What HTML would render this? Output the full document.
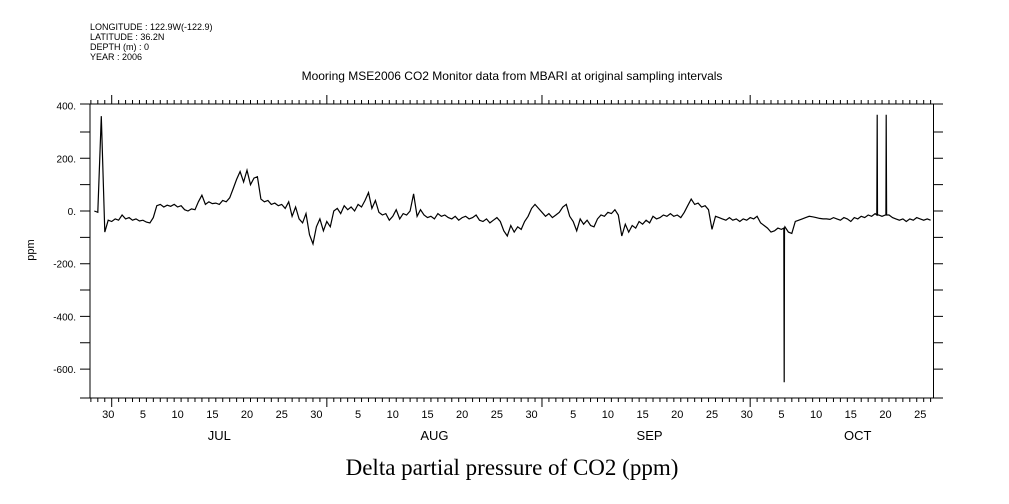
<!DOCTYPE html>
<html><head><meta charset="utf-8"><style>
html,body{margin:0;padding:0;background:#fff;}
svg{display:block;font-family:"Liberation Sans",sans-serif;}
</style></head><body>
<svg id="chart" width="1009" height="504" viewBox="0 0 1009 504">
<g font-size="9" fill="#000">
<text x="90" y="30">LONGITUDE : 122.9W(-122.9)</text>
<text x="90" y="40">LATITUDE : 36.2N</text>
<text x="90" y="50">DEPTH (m) : 0</text>
<text x="90" y="60">YEAR : 2006</text>
</g>
<text x="512" y="80" text-anchor="middle" font-size="12">Mooring MSE2006 CO2 Monitor data from MBARI at original sampling intervals</text>
<text transform="translate(34,250) rotate(-90)" text-anchor="middle" font-size="11">ppm</text>
<text x="512" y="475" text-anchor="middle" font-size="23" font-family="Liberation Serif, serif">Delta partial pressure of CO2 (ppm)</text>
<g id="axes"></g>
<g id="series"></g>
</svg>
<script>
const startDay = -2.5;   // days relative to Jul 1, step 0.5
const stepDay = 0.5;
const values = [0,-5,360,-80,-35,-40,-30,-35,-15,-30,-25,-35,-30,-38,-35,-42,-45,-25,20,25,15,22,18,25,15,20,5,0,8,5,35,60,25,35,28,30,25,40,35,50,85,120,150,110,155,100,125,130,45,35,40,25,30,20,25,10,35,-20,15,-30,-45,-10,-90,-125,-60,-30,-75,-40,-60,0,10,-10,20,5,15,0,25,15,40,70,10,40,-5,-15,-10,-35,-20,5,-30,-10,-15,0,65,-20,5,-15,-25,-20,-30,-10,-20,-15,-25,-30,-20,-35,-25,-20,-30,-25,-15,-35,-40,-30,-45,-35,-25,-40,-75,-95,-55,-80,-60,-70,-40,-20,10,25,10,-5,-20,-10,-25,-15,-5,15,25,-20,-40,-75,-30,-50,-35,-55,-60,-30,-15,-20,-5,-10,5,-15,-95,-50,-80,-55,-65,-40,-50,-35,-45,-20,-30,-25,-15,-20,-10,-20,-15,-25,-5,20,45,25,30,15,20,5,-70,-20,-25,-30,-35,-25,-35,-30,-40,-30,-35,-25,-30,-20,-45,-55,-65,-80,-75,-65,-70,-60,-80,-85,-40,-35,-30,-25,-20,-22,-25,-28,-30,-30,-32,-25,-30,-35,-25,-30,-40,-25,-30,-20,-25,-15,-20,-10,-15,-20,-15,-15,-25,-30,-35,-30,-40,-30,-35,-25,-30,-35,-30,-35];
const spikeDays = [96.9, 110.3, 111.6];
const spikeValues = [-650, 365, 365];
const spikeBase = [-65, -15, -15];
const yTickValues = [400,200,0,-200,-400,-600];
const yTickLabels = ["400.","200.","0.","-200.","-400.","-600."];
const monthNames = ["JUL","AUG","SEP","OCT"];
const monthStarts = [0,31,62,92];
const monthLens = [31,31,30,31];

const L=90,R=933.5,T=104,B=398;
const x0=111.7, pxDay=6.94;
function xs(d){return x0+d*pxDay;}
function ys(v){return 211-v*0.2635;}
const NS="http://www.w3.org/2000/svg";
const axes=document.getElementById('axes'), series=document.getElementById('series');
function mk(tag,attrs,parent){const e=document.createElementNS(NS,tag);for(const k in attrs)e.setAttribute(k,attrs[k]);parent.appendChild(e);return e;}

const frame=mk('path',{d:`M80,${T}H943M80,${B}H943M${L},${T}V${B}M${R},${T}V${B}`,stroke:'#000','stroke-width':1,fill:'none'},axes);



let tp='';
for(let v=-700;v<=400;v+=100){const y=ys(v);if(y<T+3||y>B-3)continue;tp+=`M80,${y}H${L}M${R},${y}H943`;}
for(let d=-3;d<=118;d++){const x=xs(d);if(x<L||x>R)continue;const isM=monthStarts.includes(d);const len=isM?9:4;tp+=`M${x},${B}V${B+len}M${x},${T}V${T-len}`;}
const ticks=mk('path',{d:tp,stroke:'#000','stroke-width':1,fill:'none'},axes);



yTickValues.forEach((v,i)=>{const t=mk('text',{x:76,y:ys(v)+4,'text-anchor':'end','font-size':10},axes);t.textContent=yTickLabels[i];

});

const dayLabels=[[-1,30]];
monthStarts.forEach((ms,m)=>{for(let dd=5;dd<=monthLens[m];dd+=5)dayLabels.push([ms+dd-1,dd]);});
dayLabels.forEach(([d,lab])=>{const x=xs(d+0.5);if(x>R)return;const t=mk('text',{x:x,y:418,'text-anchor':'middle','font-size':11},axes);t.textContent=lab;

});
monthNames.forEach((n,m)=>{const t=mk('text',{x:xs(monthStarts[m]+15.5),y:440,'text-anchor':'middle','font-size':13},axes);t.textContent=n;

});

const pts=values.map((v,i)=>[startDay+i*stepDay,v]);
spikeDays.forEach((d,i)=>{pts.push([d-0.05,spikeBase[i]]);pts.push([d,spikeValues[i]]);pts.push([d+0.05,spikeBase[i]]);});
pts.sort((a,b)=>a[0]-b[0]);
const line=mk('path',{d:'M'+pts.map(p=>xs(p[0]).toFixed(1)+','+ys(p[1]).toFixed(1)).join('L'),stroke:'#000','stroke-width':1.2,fill:'none'},series);


</script>
</body></html>
